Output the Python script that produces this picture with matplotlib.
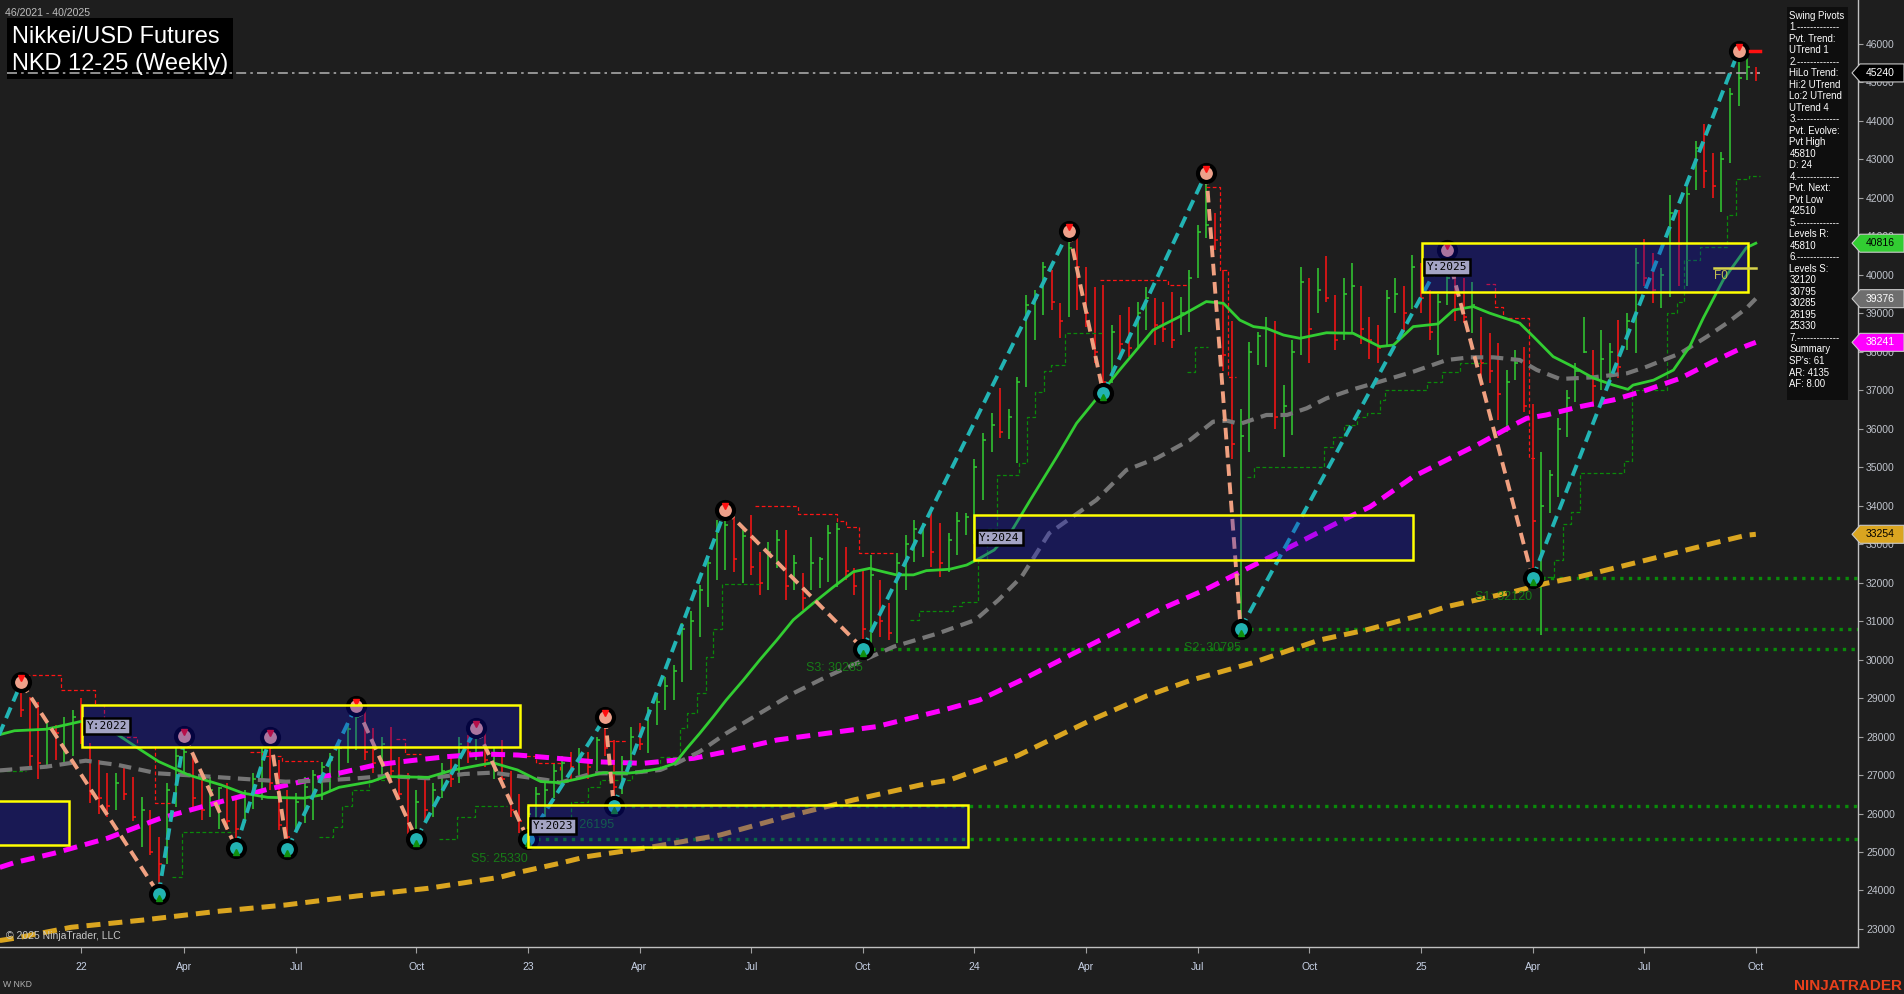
import numpy as np
import matplotlib
matplotlib.use('Agg')
import matplotlib.pyplot as plt
from matplotlib.patches import Rectangle, Polygon
from matplotlib.transforms import offset_copy

plt.rcParams['font.family'] = ['Liberation Sans', 'DejaVu Sans']

W, H = 1904, 994
BG = '#1e1e1e'

# weekly bars, week 46/2021 .. 40/2025 (index 0 = week ending 19 Nov 2021)
high = [
    29405, 29035, 28900, 28350, 28300, 28500, 28700, 29000, 27832, 27400,
    27050, 27050, 27200, 26950, 26439, 26093, 25400, 26800, 27694, 28020,
    27520, 26960, 26960, 26700, 26780, 26350, 26610, 27040, 27690, 27995,
    27390, 26610, 26520, 26960, 27130, 27350, 27560, 27820, 28340, 28800,
    28690, 28210, 27990, 28260, 27480, 27040, 26610, 26900, 26800, 27300,
    27500, 28000, 28050, 28230, 28100, 27700, 27900, 27100, 26500, 26200,
    26700, 26900, 27300, 27500, 27600, 27700, 27600, 28000, 28500, 27900,
    27500, 28256, 28343, 28776, 29100, 29556, 29860, 30943, 31250, 31940,
    32673, 33625, 33885, 33712, 33366, 33755, 32803, 33063, 33366, 33366,
    32716, 32240, 33193, 32673, 33496, 33540, 32933, 32370, 32327, 32716,
    32067, 31461, 32760, 33236, 33625, 33540, 33800, 33540, 33280, 33842,
    33800, 35200, 35878, 36405, 37047, 36510, 37340, 39470, 39600, 40340,
    40120, 39255, 41140, 40986, 40206, 39687, 39730, 38692, 38951, 39168,
    39297, 39687, 39385, 39297, 39557, 39427, 40120, 41290, 42650, 41594,
    40120, 38800, 36500, 38258, 38518, 38900, 38800, 37133, 38302, 40206,
    39904, 40163, 40484, 39470, 39904, 40310, 39700, 38900, 38700, 39600,
    39900, 39700, 40500, 40300, 39600, 39500, 40640, 40200, 39900, 39800,
    38900, 38476, 38216, 37523, 38042, 38128, 36640, 35400, 34925, 36267,
    37000, 37700, 38900, 38042, 38562, 38216, 38822, 39000, 40690, 40930,
    40560, 40165, 42070, 41680, 42285, 43470, 43910, 43150, 43180, 44840,
    45810, 45620, 45400]
low = [
    28500, 27216, 26900, 27216, 27400, 27300, 27500, 27800, 26265, 26000,
    25910, 26100, 26350, 25800, 25140, 24923, 23910, 24700, 26180, 27040,
    26180, 25830, 25920, 25600, 25570, 25110, 25750, 26130, 26350, 26610,
    25570, 25080, 25570, 25750, 25830, 26350, 26610, 26960, 27300, 27650,
    27390, 27050, 26960, 26870, 26350, 25480, 25340, 25800, 25900, 26400,
    26700, 26800, 27300, 27400, 27200, 26900, 26800, 25900, 25500, 25330,
    25800, 25900, 26400, 26800, 26900, 27000, 26900, 27100, 27500, 26195,
    26500, 27200, 27650, 27564, 28300, 28690, 28950, 29426, 29730, 30594,
    31374, 32067, 32327, 32282, 31980, 32197, 31677, 31807, 32370, 31547,
    31807, 31288, 31807, 31850, 32023, 31893, 32067, 31677, 30285, 30422,
    30594, 30508, 30422, 31807, 32543, 32673, 32413, 32153, 32283, 32716,
    33236, 33000, 34145, 35400, 35748, 35730, 35100, 37090, 38300, 38950,
    39080, 38346, 38910, 39080, 38648, 37697, 36930, 37177, 37912, 37870,
    38128, 38562, 38172, 38258, 38086, 38432, 38518, 39904, 40943, 40640,
    37500, 35200, 30795, 35400, 37652, 37600, 36000, 35270, 35834, 37900,
    37697, 38995, 39297, 38042, 38302, 38476, 38200, 37800, 37700, 38130,
    39000, 38500, 39100, 39000, 38300, 37900, 39200, 38800, 38735, 38476,
    37100, 37177, 36224, 35920, 37263, 36440, 32120, 30640, 33800, 34232,
    35790, 36700, 37956, 36570, 37003, 37133, 37306, 38042, 37956, 39700,
    39260, 39125, 39430, 39700, 39710, 42200, 42260, 41980, 41640, 42890,
    44390, 45060, 45040]
close = [
    28700, 27500, 27300, 28200, 28100, 28300, 28500, 28000, 26500, 26400,
    26200, 26800, 26500, 25900, 26100, 25000, 24700, 26600, 27500, 27600,
    26400, 26100, 26600, 26650, 25800, 25600, 26500, 26900, 27600, 26800,
    25700, 25400, 26300, 26700, 27000, 27200, 27400, 27700, 28200, 28500,
    27600, 27300, 27800, 27100, 26500, 25700, 26300, 26100, 26600, 27100,
    26900, 27800, 27600, 28000, 27400, 27500, 26900, 26100, 25800, 26000,
    26500, 26600, 27100, 27300, 27200, 27500, 27200, 27900, 27700, 26700,
    27300, 28000, 27800, 28600, 28900, 29300, 29700, 30800, 31000, 31800,
    32500, 33400, 33500, 32600, 33200, 32400, 32000, 32800, 33100, 31900,
    32500, 31600, 32500, 32600, 33300, 33400, 32300, 31900, 30800, 32200,
    31000, 30700, 32500, 33000, 33400, 33500, 32800, 32500, 33100, 33600,
    33700, 35000, 35700, 36100, 35900, 36300, 37200, 39200, 39400, 40200,
    39300, 38800, 40700, 40200, 39000, 38000, 37200, 38500, 38200, 38100,
    39000, 39400, 38700, 38600, 38300, 39000, 39900, 41100, 41300, 40900,
    37900, 35600, 35800, 38000, 38400, 38600, 36300, 36600, 38000, 39800,
    38600, 39600, 39400, 38300, 39500, 39700, 38600, 38300, 38100, 39400,
    39500, 39000, 40200, 39400, 38500, 39300, 39900, 39500, 38900, 39200,
    37700, 37500, 36900, 37200, 37700, 36600, 33600, 34000, 34800, 36000,
    36800, 37500, 38000, 37100, 37800, 38000, 37600, 38800, 40300, 39900,
    39600, 40000, 41600, 40800, 42100, 43300, 42700, 42300, 43000, 44700,
    45100, 45400, 45240]

# x axis: first weekly bar of each labelled month
tick_pos = [7, 19, 32, 46, 59, 72, 85, 98, 111, 124, 137, 150, 163, 176, 189, 202]
tick_lbl = ['22', 'Apr', 'Jul', 'Oct', '23', 'Apr', 'Jul', 'Oct',
            '24', 'Apr', 'Jul', 'Oct', '25', 'Apr', 'Jul', 'Oct']

# moving averages (bar index, price)
fast_x = [-2.5, -0.8, 2.9, 6.9, 10.4, 13.3, 16.0, 19.5, 23.3, 25.8, 28.7, 32.9, 34.9, 37.0,
          40.8, 42.4, 47.4, 50.3, 54.9, 57.8, 60.5, 62.7, 65.1, 67.8, 70.5, 72.4, 74.4, 76.1,
          77.5, 79.0, 80.6, 82.1, 84.1, 86.0, 88.0, 89.9, 92.2, 94.6, 96.9, 98.8, 100.4,
          101.9, 103.9, 105.4, 108.1, 110.1, 111.6, 113.3, 115.4, 117.5, 120.6, 122.9, 124.8,
          127.9, 131.8, 134.9, 138.0, 140.0, 141.9, 143.5, 145.0, 147.0, 148.9, 152.0, 155.1,
          158.2, 159.8, 162.1, 165.0, 166.8, 169.1, 171.0, 174.5, 176.1, 178.4, 180.7, 183.1,
          185.4, 187.1, 187.7, 190.1, 192.4, 194.3, 195.9, 198.2, 200.9, 202.0]
fast_y = [28050, 28150, 28190, 28390, 28170, 27740, 27350, 27000, 26740, 26530, 26420, 26400,
          26480, 26680, 26830, 26960, 26940, 27130, 27320, 27130, 26830, 26800, 26915, 27060,
          27045, 27090, 27170, 27300, 27690, 28080, 28520, 28950, 29470, 29990, 30510, 31030,
          31460, 31890, 32280, 32370, 32280, 32200, 32200, 32310, 32345, 32456, 32630, 32846,
          33366, 34145, 35270, 36140, 36660, 37520, 38560, 38910, 39300, 39255, 38820, 38650,
          38606, 38430, 38346, 38490, 38476, 38130, 38170, 38650, 38720, 39080, 39170, 39000,
          38740, 38390, 37870, 37610, 37310, 37130, 37020, 37130, 37260, 37520, 38130, 38880,
          39860, 40700, 40816]
mid_x = [-2.5, -0.8, 2.9, 7.5, 11.3, 15.8, 20.8, 26.6, 30.8, 34.9, 39.1, 42.4, 47.4, 51.6, 54.9,
         57.8, 61.2, 62.7, 66.6, 70.5, 74.4, 76.3, 79.0, 82.1, 86.0, 89.9, 93.8, 97.7, 101.6,
         106.8, 111.1, 113.8, 116.5, 119.7, 125.2, 128.7, 132.2, 136.1, 138.8, 140.4, 141.9,
         145.0, 147.4, 149.7, 152.0, 155.1, 158.2, 162.1, 166.0, 168.7, 171.4, 174.5, 176.5,
         179.2, 183.1, 187.0, 189.3, 193.2, 196.3, 198.6, 200.9, 202.0]
mid_y = [27120, 27150, 27216, 27372, 27260, 27045, 26975, 26889, 26827, 26853, 26915, 26975,
         26915, 27027, 27061, 26975, 26871, 26800, 27045, 27045, 27131, 27304, 27607, 28084,
         28603, 29123, 29556, 29945, 30335, 30682, 31028, 31548, 32153, 33280, 34145, 34925,
         35228, 35704, 36180, 36206, 36120, 36354, 36354, 36528, 36787, 37021, 37219, 37478,
         37782, 37852, 37852, 37782, 37523, 37289, 37333, 37437, 37608, 37956, 38388, 38736,
         39125, 39376]
slow_x = [-2.5, -0.8, 3.8, 10.0, 16.2, 22.5, 28.7, 34.9, 41.2, 45.3, 49.5, 53.7, 57.8, 62.4,
          66.6, 72.4, 78.3, 82.1, 88.0, 93.8, 99.6, 103.5, 107.4, 111.6, 116.5, 121.8, 127.2,
          132.5, 137.8, 143.2, 148.6, 153.9, 157.1, 162.1, 166.0, 169.9, 173.8, 175.3, 177.6,
          181.5, 185.4, 189.3, 193.2, 197.0, 200.9, 202.0]
slow_y = [24600, 24723, 24966, 25356, 25876, 26265, 26629, 26941, 27260, 27372, 27476, 27546,
          27520, 27434, 27346, 27304, 27434, 27607, 27910, 28084, 28257, 28473, 28689, 28950,
          29469, 30075, 30682, 31288, 31807, 32413, 33020, 33626, 33971, 34751, 35185, 35618,
          36094, 36267, 36354, 36570, 36744, 37003, 37307, 37738, 38150, 38241]
long_x = [-2.5, -0.8, 5.8, 14.2, 22.5, 30.8, 39.1, 47.4, 55.7, 58.1, 62.7, 65.8, 73.6, 81.4,
          89.1, 96.9, 104.7, 108.1, 116.0, 124.8, 131.0, 136.3, 143.2, 151.2, 156.6, 162.9,
          166.0, 173.8, 177.6, 181.5, 189.3, 197.0, 200.9, 202.0]
long_y = [22700, 22758, 23044, 23233, 23450, 23624, 23858, 24057, 24343, 24480, 24707, 24878,
          25138, 25442, 25918, 26351, 26741, 26871, 27500, 28450, 29050, 29469, 29902, 30508,
          30768, 31150, 31374, 31764, 31981, 32153, 32587, 33020, 33230, 33254]

# swing pivots (first one is off the left edge)
piv_idx = [-4, 0, 16, 19, 25, 29, 31, 39, 46, 53, 59, 68, 69, 82, 98, 122, 126, 138, 142, 166, 176, 200]
piv_val = [27300, 29405, 23910, 28020, 25110, 27995, 25080, 28800, 25340, 28230, 25330, 28500,
           26195, 33885, 30285, 41140, 36930, 42650, 30795, 40640, 32120, 45810]

# support levels
s_names = ['S1', 'S2', 'S3', 'S4', 'S5']
s_vals = [32120, 30795, 30285, 26195, 25330]
s_idx = [176, 142, 98, 69, 59]

# yearly zones
box_lbl = ['', 'Y:2022', 'Y:2023', 'Y:2024', 'Y:2025']
box_x0 = [-4, 7.1, 59.0, 111.0, 163.1]
box_x1 = [5.6, 58.1, 110.2, 162.1, 201.1]
box_lo = [25182, 27736, 25138, 32586, 39557]
box_hi = [26333, 28819, 26223, 33755, 40830]

# trailing step lines (bar index, level)
grn_steps = [
    [(-2.5, 27110), (0.5, 27110)],
    [(17.5, 24360), (18.7, 25530), (24.8, 25530)],
    [(34.7, 25400), (36.3, 25650), (37.3, 26200), (38.5, 26610), (40.5, 26870), (43.0, 26870)],
    [(48.6, 25350), (50.7, 25920), (52.8, 26200), (56.6, 26200)],
    [(60.0, 25500), (62.0, 25800), (64.0, 26300), (66.0, 26700), (67.4, 26870), (71.1, 27050),
     (72.4, 27150), (74.4, 27480), (76.7, 28220), (77.5, 28600), (78.7, 29130), (79.7, 30070),
     (80.6, 30790), (81.6, 31955), (86.0, 31955)],
    [(103.5, 31030), (104.6, 31270), (108.5, 31400), (109.5, 31500), (111.4, 32600),
     (112.5, 33400), (113.6, 34795), (116.2, 35100), (117.1, 36300), (118.0, 36950),
     (119.1, 37500), (119.9, 37650), (121.5, 38476), (125.8, 38476)],
    [(135.7, 37478), (136.7, 38120), (138.2, 38120)],
    [(142.7, 34735), (143.6, 35010), (151.7, 35530), (152.8, 35790), (154.0, 36100),
     (155.5, 36300), (156.7, 36400), (158.2, 36750), (158.8, 37000), (163.7, 37200),
     (165.5, 37480), (167.5, 37700), (170.7, 37700)],
    [(177.0, 32153), (178.5, 32587), (179.5, 33522), (180.5, 33825), (181.5, 34855),
     (186.6, 35165), (187.6, 37003), (191.6, 38995), (192.8, 39297), (193.6, 40380),
     (195.5, 40726), (198.6, 41550), (199.7, 42477), (201.2, 42550), (202.5, 42550)],
]
red_steps = [
    [(0.5, 29600), (4.6, 29210), (8.6, 28820), (9.6, 28400), (11.5, 28000), (13.5, 27740),
     (15.6, 26270), (17.3, 26270)],
    [(26.6, 27600), (28.0, 27500), (30.4, 27370), (34.6, 27370)],
    [(43.6, 27930), (44.7, 27550), (46.5, 27550)],
    [(57.4, 27500), (60.0, 27300), (62.7, 27130)],
    [(68.5, 27880), (70.5, 27880)],
    [(85.5, 33990), (90.5, 33780), (95.0, 33600), (96.0, 33450), (97.5, 32760), (101.5, 32760)],
    [(125.6, 39860), (133.5, 39730), (136.0, 39730)],
    [(138.0, 42270), (139.6, 40120), (140.5, 37350), (141.5, 37350)],
    [(170.6, 39750), (171.6, 39150), (172.6, 38865), (175.6, 35230), (176.5, 35230)],
]

panel_lines = ['Swing Pivots', '1.-------------', 'Pvt. Trend:', 'UTrend 1', '2.-------------',
               'HiLo Trend:', 'Hi:2 UTrend', 'Lo:2 UTrend', 'UTrend 4', '3.-------------',
               'Pvt. Evolve:', 'Pvt High', '45810', 'D: 24', '4.-------------', 'Pvt. Next:',
               'Pvt Low', '42510', '5.-------------', 'Levels R:', '45810', '6.-------------',
               'Levels S:', '32120', '30795', '30285', '26195', '25330', '7.-------------',
               'Summary', "SP's: 61", 'AR: 4135', 'AF: 8.00']

fig = plt.figure(figsize=(W / 100, H / 100), dpi=100, facecolor=BG)
ax = fig.add_axes([0, 47 / H, 1858 / W, 947 / H], facecolor=BG)
ax.set_xlim(-2.48, 213.9)
ax.set_ylim(22532, 47135)

# price bars
idx = np.arange(len(close))
prev = np.r_[close[0] + 1, close[:-1]]
cols = np.where(np.array(close) >= prev, '#32cd32', '#ff1414')
ax.vlines(idx, low, high, colors=cols, lw=1.1, zorder=2)
ax.hlines(close, idx, idx + 0.35, colors=cols, lw=1.1, zorder=2)

# step lines
for seg in grn_steps:
    xs, ys = zip(*seg)
    ax.plot(xs, ys, drawstyle='steps-post', color='#0a8a0a', lw=0.9, ls=(0, (3, 2)), zorder=2)
for seg in red_steps:
    xs, ys = zip(*seg)
    ax.plot(xs, ys, drawstyle='steps-post', color='#ff1414', lw=0.9, ls=(0, (3, 2)), zorder=2)

# support levels
for name, v, i0 in zip(s_names, s_vals, s_idx):
    ax.plot([i0, 214], [v, v], color='#0a8a0a', lw=2.4, ls=(0, (1, 1.6)), zorder=2.5)
    ax.annotate(f'{name}: {v}', (i0, v), xytext=(0, -14), textcoords='offset points',
                ha='right', va='center', color='#177a17', fontsize=9, zorder=5.5)

# moving averages
ax.plot(long_x, long_y, color='#daa520', lw=3.6, dashes=(2.8, 1.6), zorder=3)
ax.plot(slow_x, slow_y, color='#ff00ff', lw=3.6, dashes=(2.8, 1.6), zorder=3.1)
ax.plot(mid_x, mid_y, color='#767676', lw=3.0, dashes=(3, 1.8), zorder=3.2)
ax.plot(fast_x, fast_y, color='#32cd32', lw=2.0, zorder=3.3)

# swing legs
for k in range(len(piv_idx) - 1):
    up = piv_val[k + 1] > piv_val[k]
    ax.plot(piv_idx[k:k + 2], piv_val[k:k + 2], color='#22b4b4' if up else '#f0a080',
            lw=2.8, dashes=(3, 1.7), zorder=4)

hi_x = [i for i, v, p in zip(piv_idx[1:], piv_val[1:], piv_val[:-1]) if v > p]
hi_y = [v for v, p in zip(piv_val[1:], piv_val[:-1]) if v > p]
lo_x = [i for i, v, p in zip(piv_idx[1:], piv_val[1:], piv_val[:-1]) if v < p]
lo_y = [v for v, p in zip(piv_val[1:], piv_val[:-1]) if v < p]
ax.scatter(hi_x, hi_y, s=150, c='#eea08a', edgecolors='black', linewidths=3, zorder=5)
ax.scatter(lo_x, lo_y, s=150, c='#22b2b2', edgecolors='black', linewidths=3, zorder=5)
up_t = offset_copy(ax.transData, fig=fig, x=0, y=4, units='dots')
dn_t = offset_copy(ax.transData, fig=fig, x=0, y=-4, units='dots')
ax.plot(hi_x, hi_y, 'v', color='#ff1010', ms=4.5, transform=up_t, zorder=5.2)
ax.plot(lo_x, lo_y, '^', color='#109010', ms=4.5, transform=dn_t, zorder=5.2)
ax.plot([201.3, 202.5], [45810, 45810], color='#ff1010', lw=2.5, zorder=5.3)

# yearly zones
for lbl, x0, x1, lo, hi in zip(box_lbl, box_x0, box_x1, box_lo, box_hi):
    ax.add_patch(Rectangle((x0, lo), x1 - x0, hi - lo, facecolor=(15 / 255, 15 / 255, 210 / 255, 0.3),
                           edgecolor='#ffff00', lw=1.8, zorder=6))
    if lbl:
        ax.annotate(lbl, (x0, (lo + hi) / 2), xytext=(3.5, 0), textcoords='offset points',
                    ha='left', va='center', fontsize=8, family='DejaVu Sans Mono', color='black',
                    bbox=dict(boxstyle='square,pad=0.25', fc='#a4a4c4', ec='black', lw=1.8),
                    zorder=8)

# F0 marker
ax.plot([197.1, 202.0], [40180, 40180], color='#d8d44a', lw=1.8, zorder=7)
ax.annotate('F0', (197.1, 40180), xytext=(0, -1.5), textcoords='offset points', ha='left',
            va='top', color='#c4c050', fontsize=8.5, zorder=7)

# title block and last-price line
ax.add_patch(Rectangle((7.3 / W, 1 - 79 / H), 225.4 / W, 60.7 / H, transform=fig.transFigure,
                       facecolor='black', zorder=6, clip_on=False))
ax.plot([-1.67, 202.5], [45240, 45240], color='#a8a8a8', lw=1.2, ls=(0, (6, 2.5, 1.5, 2.5)), zorder=6.5)
ax.text(11.7 / W, 1 - 43.3 / H, 'Nikkei/USD Futures', transform=fig.transFigure, fontsize=17,
        color='white', va='baseline', ha='left', zorder=9)
ax.text(11.7 / W, 1 - 70 / H, 'NKD 12-25 (Weekly)', transform=fig.transFigure, fontsize=17,
        color='white', va='baseline', ha='left', zorder=9)
fig.text(5 / W, 1 - 15.7 / H, '46/2021 - 40/2025', fontsize=7.6, color='#bebebe', va='baseline')
fig.text(6 / W, 1 - 939 / H, '\u00a9 2025 NinjaTrader, LLC', fontsize=7.5, color='#c8c8c8', va='baseline')
fig.text(3 / W, 1 - 987 / H, 'W NKD', fontsize=6.2, color='#b0b0b0', va='baseline')
fig.text(1902 / W, 1 - 989.5 / H, 'NINJATRADER', fontsize=11, color='#e8401c', weight='bold',
         va='baseline', ha='right')

# axes styling
ax.set_xticks(tick_pos)
ax.set_xticklabels(tick_lbl)
ax.yaxis.tick_right()
ax.set_yticks(np.arange(23000, 46001, 1000))
ax.set_yticklabels([str(v) for v in range(23000, 46001, 1000)])
ax.tick_params(axis='x', colors='#a0a0a0', length=4.3, width=0.8, pad=6.5, labelsize=7.5,
               labelcolor='#c8d2e6')
ax.tick_params(axis='y', colors='#a0a0a0', length=3.6, width=0.8, pad=2.2, labelsize=7.5,
               labelcolor='#c0c4cc')
for s in ['top', 'left']:
    ax.spines[s].set_visible(False)
for s in ['right', 'bottom']:
    ax.spines[s].set_color('#c0c0c0')
    ax.spines[s].set_linewidth(1)

# right axis value tags
def tag(v, bg, fg):
    y = ax.transData.transform((0, v))[1]
    pts = [(1852, y), (1860, y + 9), (1904, y + 9), (1904, y - 9), (1860, y - 9)]
    fig.add_artist(Polygon([(px / W, py / H) for px, py in pts], closed=True,
                           transform=fig.transFigure, facecolor=bg, edgecolor='#c8c8c8',
                           lw=0.8, zorder=20))
    fig.text(1866 / W, y / H, str(v), color=fg, fontsize=7.5, va='center', ha='left', zorder=21)

tag(45240, 'black', 'white')
tag(40816, '#32cd32', 'black')
tag(39376, '#6e6e6e', 'white')
tag(38241, '#ff00ff', 'white')
tag(33254, '#daa520', 'black')

# info panel
fig.add_artist(Rectangle((1786.7 / W, 1 - 400 / H), 61.6 / W, 393.3 / H, transform=fig.transFigure,
                         facecolor='#0e0e0e', edgecolor='none', zorder=10))
for k, line in enumerate(panel_lines):
    fig.text(1789.3 / W, 1 - (15.7 + 11.51 * k) / H, line, fontsize=6.9, color='white',
             va='center', ha='left', zorder=11)

fig.savefig('out.png', dpi=100, facecolor=BG)
